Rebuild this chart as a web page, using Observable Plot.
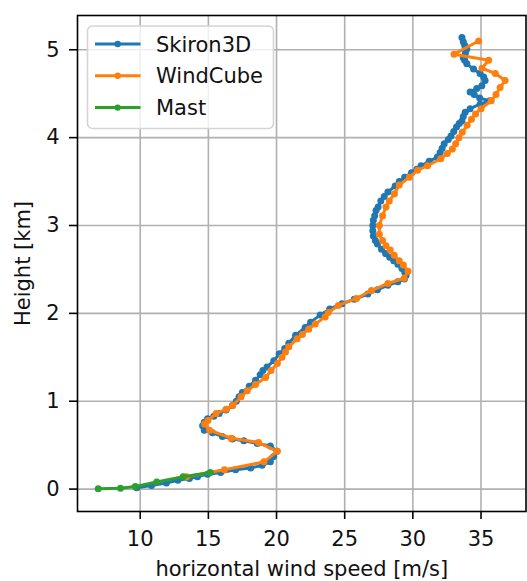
<!DOCTYPE html>
<html>
<head>
<meta charset="utf-8">
<script src="https://cdn.jsdelivr.net/npm/d3@7"></script>
<script src="https://cdn.jsdelivr.net/npm/@observablehq/plot@0.6"></script>
<style>
  html, body { margin: 0; padding: 0; background: #fff; }
  svg { font-family: "DejaVu Sans", sans-serif; }
</style>
</head>
<body>
<div id="chart"></div>
<script>
// ---- data (height in km, horizontal wind speed in m/s) ----
const skironHeight = [0.016,0.04,0.07,0.10,0.12,0.14,0.17,0.19,0.22,0.24,0.27,0.31,0.37,0.43,0.49,0.52,0.55,0.57,0.60,0.64,0.67,0.72,0.76,0.80,0.83,0.86,0.90,0.95,1.00,1.05,1.10,1.17,1.24,1.30,1.35,1.39,1.46,1.54,1.60,1.66,1.75,1.84,1.90,1.98,2.05,2.11,2.16,2.22,2.27,2.32,2.36,2.39,2.43,2.47,2.51,2.56,2.60,2.64,2.68,2.73,2.79,2.83,2.88,2.94,3.00,3.06,3.11,3.17,3.21,3.28,3.33,3.38,3.45,3.50,3.55,3.60,3.64,3.68,3.73,3.78,3.83,3.88,3.93,3.98,4.02,4.07,4.12,4.16,4.19,4.24,4.29,4.33,4.38,4.42,4.45,4.49,4.52,4.56,4.59,4.65,4.69,4.73,4.78,4.84,4.88,4.91,4.96,5.01,5.05,5.09,5.14];
const skironSpeed  = [9.74,10.83,11.92,12.76,13.61,14.2,14.94,15.9,17.0,18.1,18.94,19.55,19.79,20.03,19.55,18.58,17.6,16.76,16.03,15.3,14.7,14.58,14.7,14.94,15.4,15.79,16.3,16.76,17.05,17.25,17.49,18.0,18.46,18.8,19.0,19.3,19.8,20.2,20.6,20.9,21.4,22.1,22.5,23.2,23.9,24.8,25.7,26.7,27.4,28.17,28.9,29.38,29.5,29.4,29.2,28.9,28.6,28.3,28.0,27.7,27.4,27.25,27.1,27.06,27.06,27.1,27.2,27.3,27.45,27.65,27.9,28.17,28.7,29.0,29.4,29.9,30.3,30.6,31.2,31.8,32.0,32.15,32.3,32.6,32.8,33.0,33.2,33.4,33.6,33.7,33.84,34.2,34.93,35.65,34.9,34.5,34.2,34.69,35.06,35.3,35.2,34.93,34.45,33.96,33.8,33.7,33.85,33.96,33.8,33.7,33.6];

const windcubeHeight = [0.14,0.22,0.31,0.43,0.53,0.58,0.67,0.74,0.78,0.86,0.91,0.95,1.05,1.12,1.19,1.27,1.35,1.43,1.50,1.56,1.62,1.71,1.76,1.82,1.88,1.96,2.01,2.09,2.17,2.26,2.34,2.40,2.48,2.55,2.60,2.66,2.72,2.77,2.83,2.90,3.00,3.11,3.21,3.28,3.36,3.46,3.55,3.63,3.68,3.76,3.82,3.87,3.93,4.00,4.06,4.14,4.21,4.27,4.33,4.42,4.49,4.57,4.65,4.73,4.79,4.88,4.95,5.10];
const windcubeSpeed  = [13.4,16.18,19.08,20.06,18.68,16.67,15.09,14.72,14.97,15.57,16.3,16.79,17.4,17.85,18.46,19.2,19.6,20.06,20.4,20.66,20.9,21.51,21.9,22.36,22.84,23.57,23.8,24.53,25.87,26.96,28.17,29.36,29.65,29.3,29.0,28.63,28.34,28.03,27.78,27.54,27.54,27.78,28.03,28.27,28.65,29.0,29.75,30.35,31.08,32.05,32.53,32.9,33.14,33.38,33.62,33.98,34.3,34.6,35.0,35.75,36.1,36.4,36.77,36.05,35.07,35.56,33.02,34.83];

const mastHeight = [0.003,0.01,0.03,0.08,0.14,0.19];
const mastSpeed  = [6.92,8.55,9.64,11.21,13.15,15.14];

const xTicks = [10,15,20,25,30,35];
const yTicks = [0,1,2,3,4,5];

const seriesNames  = ["Skiron3D","WindCube","Mast"];
const seriesColors = ["#1f77b4","#ff7f0e","#2ca02c"];

const toRows = (h, s) => h.map((v, i) => ({height: v, speed: s[i]}));
const skiron = toRows(skironHeight, skironSpeed);
const windcube = toRows(windcubeHeight, windcubeSpeed);
const mast = toRows(mastHeight, mastSpeed);
const series = [skiron, windcube, mast];

const FS = 21;
const TXT = "#111";
const marks = [
  Plot.gridX(xTicks, {stroke: "#b0b0b0", strokeOpacity: 1, strokeWidth: 1.6}),
  Plot.gridY(yTicks, {stroke: "#b0b0b0", strokeOpacity: 1, strokeWidth: 1.6}),
];
series.forEach((rows, i) => {
  marks.push(Plot.line(rows, {x: "speed", y: "height", stroke: seriesColors[i], strokeWidth: 3}));
  marks.push(Plot.dot(rows, {x: "speed", y: "height", fill: seriesColors[i], r: 3.5, stroke: "none"}));
});
marks.push(
  Plot.frame({stroke: "#000", strokeWidth: 1.6}),
  Plot.axisX(xTicks, {tickSize: 8, tickPadding: 12, fontSize: FS, label: null, strokeWidth: 1.6, color: TXT, stroke: "#000", tickFormat: d => String(d)}),
  Plot.axisY(yTicks, {tickSize: 8, tickPadding: 10, fontSize: FS, label: null, strokeWidth: 1.6, color: TXT, stroke: "#000", tickFormat: d => String(d)}),
  Plot.text(["horizontal wind speed [m/s]"], {frameAnchor: "bottom", dy: 58, fontSize: FS, fill: TXT, lineAnchor: "middle", textAnchor: "middle"}),
  Plot.text(["Height [km]"], {frameAnchor: "left", dx: -54, rotate: -90, fontSize: FS, fill: TXT, lineAnchor: "middle", textAnchor: "middle"})
);

const chart = Plot.plot({
  width: 527,
  height: 581,
  marginLeft: 77,
  marginRight: 1.5,
  marginTop: 15,
  marginBottom: 70,
  x: {domain: [5.4, 38.3]},
  y: {domain: [-0.255, 5.39]},
  style: {fontFamily: "DejaVu Sans, sans-serif", background: "#fff"},
  marks
});
document.getElementById("chart").appendChild(chart);

// legend (matplotlib-style, inside the axes, upper left)
const svg = d3.select(chart);
const lg = svg.append("g").attr("text-anchor", "start");
lg.append("rect")
  .attr("x", 87.5).attr("y", 26).attr("width", 186).attr("height", 102.5)
  .attr("rx", 5).attr("ry", 5)
  .attr("fill", "#fff").attr("fill-opacity", 0.8)
  .attr("stroke", "#d5d5d5").attr("stroke-width", 1.6);
seriesNames.forEach((name, i) => {
  const y = 44 + i * 31.8;
  lg.append("line").attr("x1", 95).attr("x2", 140.5).attr("y1", y).attr("y2", y)
    .attr("stroke", seriesColors[i]).attr("stroke-width", 3);
  lg.append("circle").attr("cx", 117.7).attr("cy", y).attr("r", 3.2).attr("fill", seriesColors[i]);
  lg.append("text").attr("x", 156).attr("y", y).attr("dy", "0.36em")
    .attr("text-anchor", "start")
    .attr("font-size", FS).attr("fill", TXT).text(name);
});
</script>
</body>
</html>
